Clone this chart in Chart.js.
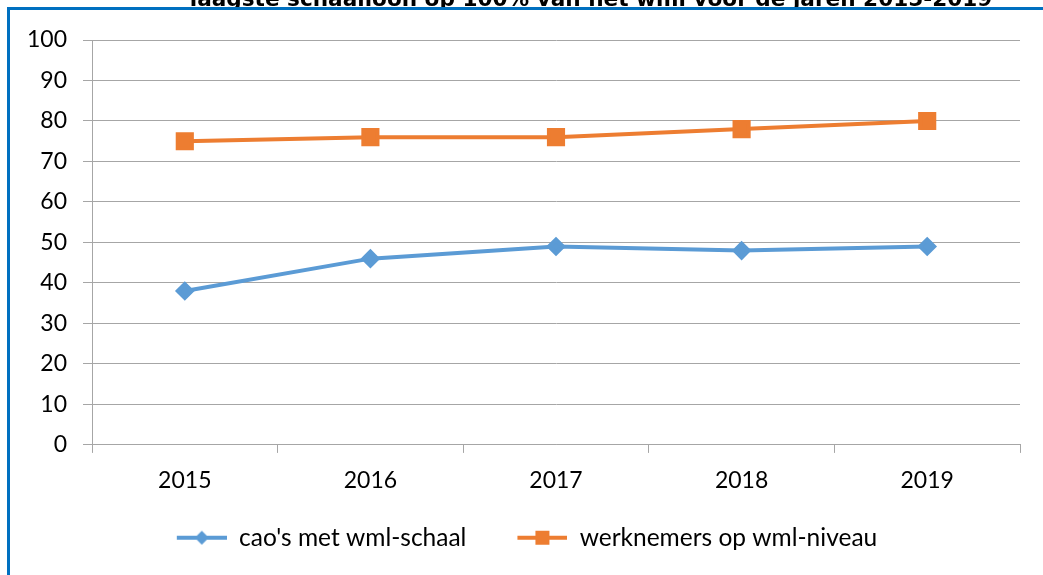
<!DOCTYPE html>
<html>
<head>
<meta charset="utf-8">
<script src="https://cdn.jsdelivr.net/npm/chart.js@4/dist/chart.umd.min.js"></script>
<style>
  html, body { margin: 0; padding: 0; background: #fff; }
  #wrap { width: 1043px; height: 575px; position: relative; }
</style>
</head>
<body>
<div id="wrap"><canvas id="chart" width="1043" height="575"></canvas></div>
<script>
// data
const years = ['2015', '2016', '2017', '2018', '2019'];
const caoValues = [38, 46, 49, 48, 49];
const werknemersValues = [75, 76, 76, 78, 80];
const seriesNames = ["cao's met wml-schaal", 'werknemers op wml-niveau'];
const titleText = 'laagste schaalloon op 100% van het wml voor de jaren 2015-2019';

const blue = '#5B9BD5';
const orange = '#ED7D31';
const gridGray = '#A6A6A6';
const fontFamily = 'Lato, "Open Sans", sans-serif';

// legend icon: line with the marker in the middle, blank strip on the left
// so the items sit further apart than the vertical legend padding
const iconGap = 34;
function legendIcon(color, shape) {
  const c = document.createElement('canvas');
  c.width = 50 + iconGap;
  c.height = 18;
  const ctx = c.getContext('2d');
  const mid = iconGap + 25;
  ctx.strokeStyle = color;
  ctx.lineWidth = 4;
  ctx.beginPath();
  ctx.moveTo(iconGap, 9);
  ctx.lineTo(iconGap + 50, 9);
  ctx.stroke();
  ctx.fillStyle = color;
  ctx.beginPath();
  if (shape === 'diamond') {
    ctx.moveTo(mid, 2); ctx.lineTo(mid + 7, 9); ctx.lineTo(mid, 16); ctx.lineTo(mid - 7, 9);
  } else {
    ctx.rect(mid - 7, 2, 14, 14);
  }
  ctx.closePath();
  ctx.fill();
  return c;
}

// cut-off title above the frame, then the blue frame itself
const framePlugin = {
  id: 'frame',
  afterDraw(chart) {
    const ctx = chart.ctx;
    ctx.save();
    ctx.fillStyle = '#000';
    ctx.font = 'bold 21.6px "DejaVu Sans", sans-serif';
    ctx.textAlign = 'center';
    ctx.textBaseline = 'alphabetic';
    ctx.fillText(titleText, 591, 6);
    ctx.fillStyle = '#0070C0';
    ctx.fillRect(7, 7, chart.width - 7, 3);
    ctx.fillRect(7, 7, 3, chart.height - 7);
    ctx.restore();
  }
};

const chart = new Chart(document.getElementById('chart'), {
  type: 'line',
  data: {
    labels: years,
    datasets: [{
      label: seriesNames[0],
      data: caoValues,
      borderColor: blue,
      backgroundColor: blue,
      borderWidth: 4,
      pointStyle: 'rectRot',
      pointRadius: 7,
      pointHoverRadius: 7,
      fill: false,
      tension: 0
    }, {
      label: seriesNames[1],
      data: werknemersValues,
      borderColor: orange,
      backgroundColor: orange,
      borderWidth: 4,
      pointStyle: 'rect',
      pointRadius: 10,
      pointHoverRadius: 10,
      fill: false,
      tension: 0
    }]
  },
  options: {
    responsive: false,
    animation: false,
    layout: { padding: { left: 0, right: 23, top: 40, bottom: 15 } },
    plugins: {
      tooltip: { enabled: false },
      title: { display: false },
      legend: {
        position: 'bottom',
        labels: {
          usePointStyle: true,
          pointStyleWidth: 50 + iconGap,
          padding: 17,
          color: '#000',
          font: { family: fontFamily, size: 24.5 },
          generateLabels: (ch) => ch.data.datasets.map((ds, i) => ({
            text: ds.label,
            pointStyle: legendIcon(ds.borderColor, i === 0 ? 'diamond' : 'square'),
            fillStyle: ds.borderColor,
            strokeStyle: ds.borderColor,
            lineWidth: 0,
            hidden: false,
            datasetIndex: i
          }))
        }
      }
    },
    scales: {
      x: {
        offset: true,
        grid: { drawOnChartArea: false, color: gridGray, tickLength: 8, offset: true },
        border: { color: gridGray },
        ticks: { color: '#000', padding: 14, font: { family: fontFamily, size: 23 } }
      },
      y: {
        min: 0,
        max: 100,
        ticks: { stepSize: 10, color: '#000', padding: 16, font: { family: fontFamily, size: 23 } },
        grid: { color: gridGray, tickLength: 9 },
        border: { color: gridGray },
        afterFit: (s) => { s.width = 92; }
      }
    }
  },
  plugins: [framePlugin]
});
</script>
</body>
</html>
